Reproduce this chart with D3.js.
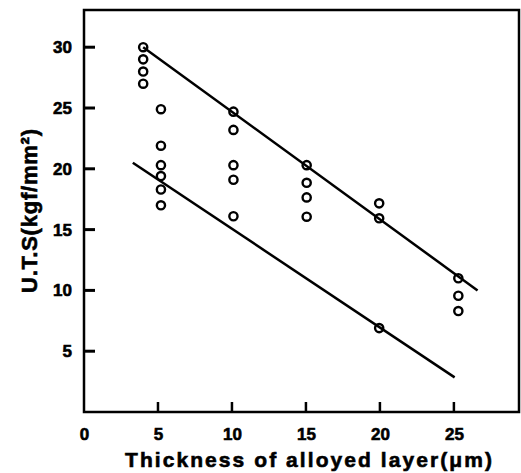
<!DOCTYPE html>
<html>
<head>
<meta charset="utf-8">
<script src="https://cdn.jsdelivr.net/npm/d3@7"></script>
<style>
  html, body { margin: 0; padding: 0; background: #fff; }
  svg { display: block; }
  text { font-family: "Liberation Sans", Arial, Helvetica, sans-serif; font-weight: bold; fill: #000; stroke: #000; stroke-width: 0.6px; }
</style>
</head>
<body>
<svg id="chart" width="521" height="473"></svg>
<script>
// ---- data ----
const xTicks = [0, 5, 10, 15, 20, 25];
const yTicks = [5, 10, 15, 20, 25, 30];
const pointX = [4, 4, 4, 4,
                5.2, 5.2, 5.2, 5.2, 5.2, 5.2,
                10.1, 10.1, 10.1, 10.1, 10.1,
                15.05, 15.05, 15.05, 15.05,
                19.95, 19.95, 19.95,
                25.3, 25.3, 25.3];
const pointY = [30, 29, 28, 27,
                24.9, 21.9, 20.3, 19.4, 18.3, 17.0,
                24.7, 23.2, 20.3, 19.1, 16.1,
                20.3, 18.85, 17.65, 16.06,
                17.16, 15.93, 6.9,
                11.0, 9.56, 8.3];
const upperLineX = [4, 26.6];
const upperLineY = [30, 10.0];
const lowerLineX = [3.3, 25.05];
const lowerLineY = [20.5, 2.85];
const xLabel = "Thickness of alloyed layer(\u03bcm)";
const yLabel = "U.T.S(kgf/mm\u00b2)";

// ---- layout ----
const mLeft = 84, mRight = 519, mTop = 10, mBottom = 412;
const svg = d3.select("#chart");
const x = d3.scaleLinear().domain([0, 29.4]).range([mLeft, mRight]);
const y = d3.scaleLinear().domain([0, 33.06]).range([mBottom, mTop]);

// frame
svg.append("rect")
  .attr("x", mLeft).attr("y", mTop)
  .attr("width", mRight - mLeft).attr("height", mBottom - mTop)
  .attr("fill", "none").attr("stroke", "#000").attr("stroke-width", 2.5);

// y axis labels
const yAxis = d3.axisLeft(y).tickValues(yTicks).tickSize(0).tickPadding(12).tickFormat(d3.format("d"));
const gy = svg.append("g").attr("transform", `translate(${mLeft},0)`).call(yAxis);
gy.select(".domain").remove();
gy.selectAll(".tick line").remove();
gy.selectAll(".tick text").attr("font-size", 17).attr("font-family", null);

// x axis labels
const xAxis = d3.axisBottom(x).tickValues(xTicks).tickSize(0).tickPadding(16).tickFormat(d3.format("d"));
const gx = svg.append("g").attr("transform", `translate(0,${mBottom})`).call(xAxis);
gx.select(".domain").remove();
gx.selectAll(".tick line").remove();
gx.selectAll(".tick text").attr("font-size", 17).attr("font-family", null);

// inward tick marks
svg.append("g").selectAll("line")
  .data(yTicks).join("line")
  .attr("x1", mLeft).attr("x2", mLeft + 11)
  .attr("y1", d => y(d)).attr("y2", d => y(d))
  .attr("stroke", "#000").attr("stroke-width", 3);
svg.append("g").selectAll("line")
  .data(xTicks.filter(d => d > 0)).join("line")
  .attr("x1", d => x(d)).attr("x2", d => x(d))
  .attr("y1", mBottom).attr("y2", mBottom - 10)
  .attr("stroke", "#000").attr("stroke-width", 2.5);

// fit lines
const line = d3.line().x(d => x(d[0])).y(d => y(d[1]));
[[upperLineX, upperLineY], [lowerLineX, lowerLineY]].forEach(([lx, ly]) => {
  svg.append("path")
    .datum(lx.map((v, i) => [v, ly[i]]))
    .attr("d", line)
    .attr("fill", "none").attr("stroke", "#000").attr("stroke-width", 2.5);
});

// points
svg.append("g").selectAll("circle")
  .data(pointX.map((v, i) => [v, pointY[i]]))
  .join("circle")
  .attr("cx", d => x(d[0])).attr("cy", d => y(d[1]))
  .attr("r", 4.1)
  .attr("fill", "none").attr("stroke", "#000").attr("stroke-width", 2.4);

// axis titles
svg.append("text")
  .attr("x", 125).attr("y", 467)
  .attr("font-size", 21)
  .attr("textLength", 367).attr("lengthAdjust", "spacing")
  .text(xLabel);

svg.append("text")
  .attr("transform", "translate(37,293) rotate(-90)")
  .attr("font-size", 22)
  .attr("textLength", 164).attr("lengthAdjust", "spacing")
  .text(yLabel);
</script>
</body>
</html>
